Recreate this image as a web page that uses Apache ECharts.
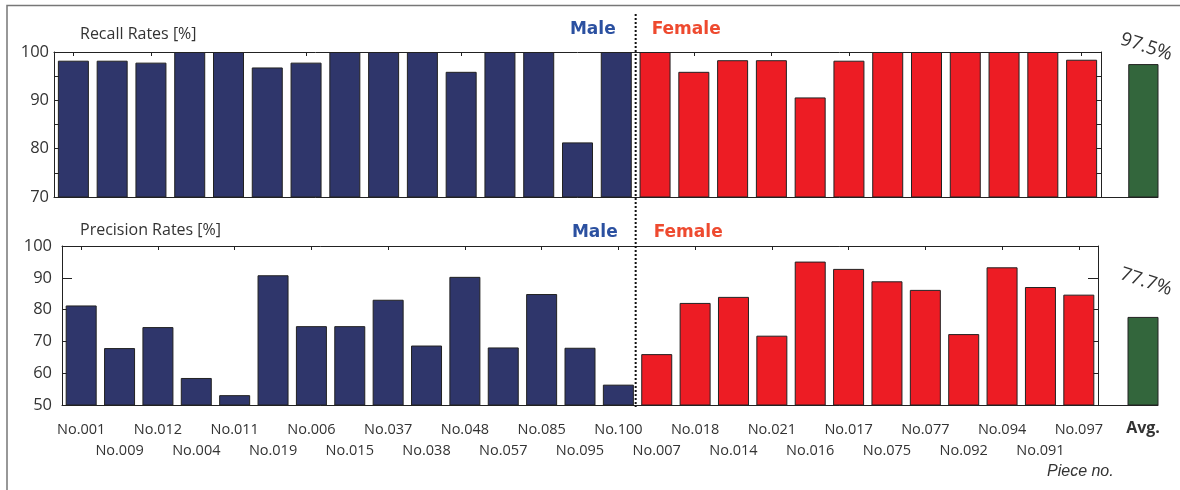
<!DOCTYPE html>
<html>
<head>
<meta charset="utf-8">
<script src="https://cdn.jsdelivr.net/npm/echarts@6/dist/echarts.min.js"></script>
<style>
html,body{margin:0;padding:0;background:#fff;}
#c{width:1180px;height:490px;}
</style>
</head>
<body>
<div id="c"></div>
<script>
// ---- data ----
const maleIds = ['No.001','No.009','No.012','No.004','No.011','No.019','No.006','No.015','No.037','No.038','No.048','No.057','No.085','No.095','No.100'];
const femaleIds = ['No.007','No.018','No.014','No.021','No.016','No.017','No.075','No.077','No.092','No.094','No.091','No.097'];
const recallMale = [98.2,98.2,97.8,100,100,96.8,97.8,100,100,100,95.9,100,100,81.3,100];
const recallFemale = [100,95.9,98.3,98.3,90.6,98.2,100,100,100,100,100,98.4];
const precMale = [81.3,67.9,74.5,58.5,53.1,90.8,74.8,74.8,83.1,68.7,90.3,68.1,84.9,68.0,56.4];
const precFemale = [66.0,82.1,84.0,71.8,95.1,92.8,88.9,86.2,72.3,93.3,87.1,84.7];
const recallAvg = 97.5;
const precAvg = 77.7;
const avgCats = ['', 'Avg.'];
const recallTicks = {min:70, max:100, interval:10};
const precTicks = {min:50, max:100, interval:10};

// ---- styles ----
const NAVY = '#2f366b', RED = '#ed1c24', GREEN = '#33663c';
const AX = '#222', TXT = '#333';
const FONT = 'Open Sans';
const cats = maleIds.concat(femaleIds);
function barData(m, f){
  return m.concat(f).map((v,i)=>({value:v, itemStyle:{color: i < m.length ? NAVY : RED}}));
}
const axLine = {show:true, onZero:false, lineStyle:{color:AX, width:1}};

const chart = echarts.init(document.getElementById('c'), null, {renderer:'canvas'});
const option = {
  animation:false,
  backgroundColor:'#fff',
  textStyle:{fontFamily:FONT},
  grid:[
    {left:54, top:52, width:1047, height:145},
    {left:1101, top:52, width:57, height:145},
    {left:62, top:246, width:1036, height:159},
    {left:1098, top:246, width:60, height:159}
  ],
  xAxis:[
    {gridIndex:0, type:'category', data:cats, position:'bottom', axisLine:axLine, axisTick:{show:false}, axisLabel:{show:false}},
    {gridIndex:0, type:'category', data:cats, position:'top', axisLine:axLine, axisTick:{show:true, inside:true, alignWithLabel:true, length:4, lineStyle:{color:AX}}, axisLabel:{show:false}},
    {gridIndex:1, type:'category', data:avgCats, position:'bottom', axisLine:axLine, axisTick:{show:false}, axisLabel:{show:false}},
    {gridIndex:2, type:'category', data:cats, position:'bottom', axisLine:axLine, axisTick:{show:false},
      axisLabel:{show:true, interval:0, margin:14, fontSize:14.5, lineHeight:21.5, color:TXT, fontFamily:FONT,
        formatter:(v,i)=> i % 2 === 0 ? v : '\n' + v}},
    {gridIndex:2, type:'category', data:cats, position:'top', axisLine:axLine, axisTick:{show:true, inside:true, alignWithLabel:true, length:4, lineStyle:{color:AX}}, axisLabel:{show:false}},
    {gridIndex:3, type:'category', data:avgCats, position:'bottom', axisLine:axLine, axisTick:{show:false},
      axisLabel:{show:true, interval:0, margin:13, fontSize:16, lineHeight:21.5, fontWeight:'bold', color:TXT, fontFamily:FONT}}
  ],
  yAxis:[
    {gridIndex:0, type:'value', position:'left', min:recallTicks.min, max:recallTicks.max, interval:recallTicks.interval,
      axisLine:axLine, axisTick:{show:true, inside:true, length:5, lineStyle:{color:AX}},
      minorTick:{show:true, splitNumber:2, length:5, lineStyle:{color:AX}},
      splitLine:{show:false}, axisLabel:{margin:5, fontSize:16.5, color:TXT, fontFamily:FONT}},
    {gridIndex:0, type:'value', position:'right', min:recallTicks.min, max:recallTicks.max, interval:5,
      axisLine:axLine, axisTick:{show:true, inside:true, length:5, lineStyle:{color:AX}},
      splitLine:{show:false}, axisLabel:{show:false}},
    {gridIndex:1, type:'value', show:false, min:recallTicks.min, max:recallTicks.max},
    {gridIndex:2, type:'value', position:'left', min:precTicks.min, max:precTicks.max, interval:precTicks.interval,
      axisLine:axLine, axisTick:{show:true, inside:true, length:10, lineStyle:{color:AX}},
      splitLine:{show:false}, axisLabel:{margin:10, fontSize:16.5, color:TXT, fontFamily:FONT}},
    {gridIndex:2, type:'value', position:'right', min:precTicks.min, max:precTicks.max, interval:precTicks.interval,
      axisLine:axLine, axisTick:{show:true, inside:true, length:10, lineStyle:{color:AX}},
      splitLine:{show:false}, axisLabel:{show:false}},
    {gridIndex:3, type:'value', show:false, min:precTicks.min, max:precTicks.max}
  ],
  series:[
    {type:'bar', xAxisIndex:0, yAxisIndex:0, barWidth:31, data:barData(recallMale, recallFemale),
      itemStyle:{borderColor:AX, borderWidth:1}},
    {type:'bar', xAxisIndex:2, yAxisIndex:2, barWidth:31, data:[null, recallAvg],
      itemStyle:{color:GREEN, borderColor:AX, borderWidth:1},
      label:{show:true, position:'top', distance:8, rotate:-18, fontSize:19, color:TXT, fontFamily:FONT,
        formatter:p=>p.value.toFixed(1)+'%'}},
    {type:'bar', xAxisIndex:3, yAxisIndex:3, barWidth:31, data:barData(precMale, precFemale),
      itemStyle:{borderColor:AX, borderWidth:1}},
    {type:'bar', xAxisIndex:5, yAxisIndex:5, barWidth:31, data:[null, precAvg],
      itemStyle:{color:GREEN, borderColor:AX, borderWidth:1},
      label:{show:true, position:'top', distance:26, rotate:-18, fontSize:19, color:TXT, fontFamily:FONT,
        formatter:p=>p.value.toFixed(1)+'%'}}
  ]
};
chart.setOption(option);

// divider between male and female, located through the axis scale
const xa = chart.convertToPixel({xAxisIndex:0}, maleIds[maleIds.length-1]);
const xb = chart.convertToPixel({xAxisIndex:0}, femaleIds[0]);
const xd = (xa + xb) / 2;
const sexStyle = {fontFamily:'DejaVu Sans', fontWeight:'bold', fontSize:17};
chart.setOption({
  graphic:[
    {type:'polyline', shape:{points:[[7,490],[7,5.5],[1180,5.5]]}, style:{stroke:'#777', lineWidth:1.5, fill:null}, silent:true},
    {type:'line', shape:{x1:xd, y1:14, x2:xd, y2:407}, style:{stroke:'#111', lineWidth:2, lineDash:[2,2]}, z:10, silent:true},
    {type:'text', x:80, y:34, style:{text:'Recall Rates [%]', fontFamily:FONT, fontSize:16, fill:TXT, textVerticalAlign:'middle'}},
    {type:'text', x:80, y:230, style:{text:'Precision Rates [%]', fontFamily:FONT, fontSize:16, fill:TXT, textVerticalAlign:'middle'}},
    {type:'text', x:xd-20, y:30, style:Object.assign({text:'Male', fill:'#2b50a0', textAlign:'right', textVerticalAlign:'middle'}, sexStyle)},
    {type:'text', x:xd+16, y:30, style:Object.assign({text:'Female', fill:'#ee4a2f', textAlign:'left', textVerticalAlign:'middle'}, sexStyle)},
    {type:'text', x:xd-18, y:233, style:Object.assign({text:'Male', fill:'#2b50a0', textAlign:'right', textVerticalAlign:'middle'}, sexStyle)},
    {type:'text', x:xd+18, y:233, style:Object.assign({text:'Female', fill:'#ee4a2f', textAlign:'left', textVerticalAlign:'middle'}, sexStyle)},
    {type:'text', x:1047, y:472, style:{text:'Piece no.', fontFamily:'Liberation Sans', fontStyle:'italic', fontSize:16, fill:TXT, textVerticalAlign:'middle'}}
  ]
});
</script>
</body>
</html>
